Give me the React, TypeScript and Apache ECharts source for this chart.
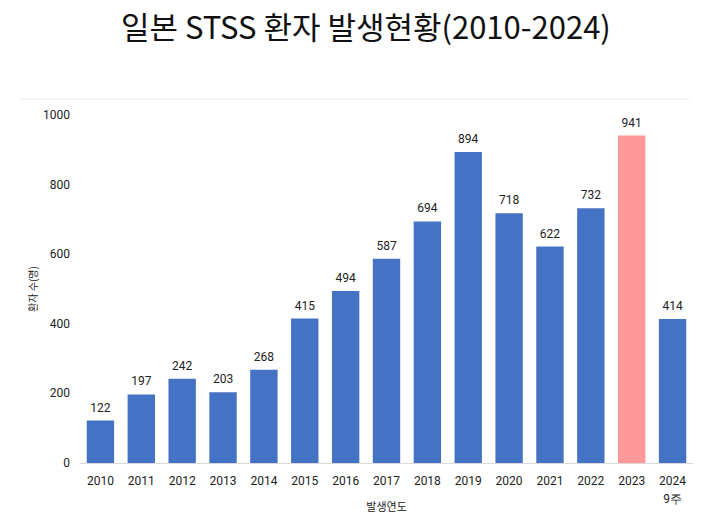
import React, { useEffect, useRef } from "react";
import * as echarts from "echarts";

const titleText = "일본 STSS 환자 발생현황(2010-2024)";
const categories = ["2010", "2011", "2012", "2013", "2014", "2015", "2016", "2017", "2018", "2019", "2020", "2021", "2022", "2023", "2024\n9주"];
const patients = [122, 197, 242, 203, 268, 415, 494, 587, 694, 894, 718, 622, 732, 941, 414];
const highlightCategory = "2023";
const yTicks = { min: 0, max: 1000, interval: 200 };
const yAxisName = "환자 수(명)";
const xAxisName = "발생연도";

const BLUE = "#4472C4";
const PINK = "#FF9999";
const FONT = "'Noto Sans CJK KR', 'Noto Sans', sans-serif";

export default function App() {
  const ref = useRef<HTMLDivElement>(null);
  useEffect(() => {
    if (!ref.current) return;
    const chart = echarts.init(ref.current, undefined, { renderer: "svg", width: 703, height: 519 });
    chart.setOption({
      animation: false,
      backgroundColor: "#ffffff",
      textStyle: { fontFamily: FONT },
      title: {
        text: titleText,
        left: 116,
        top: 5,
        textStyle: { fontSize: 31, fontWeight: "normal", color: "#111", fontFamily: FONT },
      },
      graphic: [
        {
          type: "line",
          shape: { x1: 20, y1: 99, x2: 690, y2: 99 },
          style: { stroke: "#eeeeee", lineWidth: 1 },
        },
      ],
      grid: { left: 80, right: 10, top: 115, bottom: 56, outerBoundsMode: "none", containLabel: false },
      xAxis: {
        type: "category",
        data: categories,
        name: xAxisName,
        nameLocation: "middle",
        nameGap: 37,
        nameMoveOverlap: false,
        nameTextStyle: { fontSize: 11, color: "#222", fontFamily: FONT },
        axisLine: { lineStyle: { color: "#d9d9d9" } },
        axisTick: { show: false },
        axisLabel: { fontSize: 12, color: "#222", margin: 9, lineHeight: 18, fontFamily: "Roboto, sans-serif" },
      },
      yAxis: {
        type: "value",
        min: yTicks.min,
        max: yTicks.max,
        interval: yTicks.interval,
        name: yAxisName,
        nameLocation: "middle",
        nameGap: 43,
        nameRotate: 90,
        nameMoveOverlap: false,
        nameTextStyle: { fontSize: 10, color: "#222", fontFamily: FONT },
        axisLine: { show: false },
        axisTick: { show: false },
        splitLine: { show: false },
        axisLabel: { fontSize: 12, color: "#222", margin: 10, fontFamily: "Roboto, sans-serif", formatter: (v: number) => String(v) },
      },
      series: [
        {
          type: "bar",
          data: patients.map((v, i) => ({
            value: v,
            itemStyle: { color: categories[i] === highlightCategory ? PINK : BLUE },
          })),
          barWidth: "67%",
          label: {
            show: true,
            position: "top",
            distance: 7,
            fontSize: 12,
            color: "#222",
            fontFamily: "Roboto, sans-serif",
          },
        },
      ],
    });
    return () => chart.dispose();
  }, []);
  return <div ref={ref} style={{ position: "fixed", left: 0, top: 0, width: 703, height: 519 }} />;
}
